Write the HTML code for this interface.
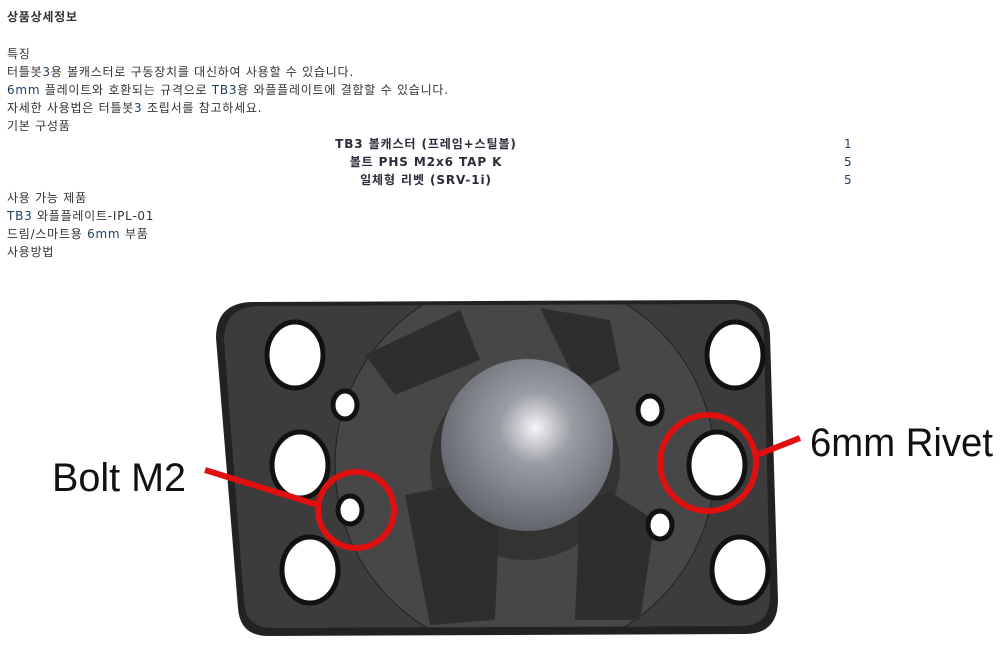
<!DOCTYPE html>
<html><head><meta charset="utf-8"><style>
body{margin:0;width:1008px;height:654px;background:#fff;overflow:hidden;position:relative;font-family:"DejaVu Sans","Noto Sans CJK KR",sans-serif;font-size:12px;color:#333}
.l{position:absolute;left:7px;white-space:nowrap;line-height:18px;letter-spacing:0.75px}
.b{color:#1e3f66}
.c{position:absolute;white-space:nowrap;font-weight:bold;line-height:18px;text-align:center;width:400px;left:226px;color:#2b2b3a;letter-spacing:0.9px}
.n{position:absolute;left:844px;line-height:18px;color:#1e3f66}
</style></head><body>
<div class="l" style="top:8px;font-weight:bold">상품상세정보</div>
<div class="l" style="top:45px">특징</div>
<div class="l" style="top:63px">터틀봇<span class="b">3</span>용 볼캐스터로 구동장치를 대신하여 사용할 수 있습니다.</div>
<div class="l" style="top:81px"><span class="b">6mm</span> 플레이트와 호환되는 규격으로 <span class="b">TB3</span>용 와플플레이트에 결합할 수 있습니다.</div>
<div class="l" style="top:99px">자세한 사용법은 터틀봇<span class="b">3</span> 조립서를 참고하세요.</div>
<div class="l" style="top:117px">기본 구성품</div>
<div class="c" style="top:135px">TB3 볼캐스터 (프레임+스틸볼)</div><div class="n" style="top:135px">1</div>
<div class="c" style="top:153px">볼트 PHS M2x6 TAP K</div><div class="n" style="top:153px">5</div>
<div class="c" style="top:171px">일체형 리벳 (SRV-1i)</div><div class="n" style="top:171px">5</div>
<div class="l" style="top:189px">사용 가능 제품</div>
<div class="l" style="top:207px"><span class="b">TB3</span> 와플플레이트-IPL-01</div>
<div class="l" style="top:225px">드림/스마트용 <span class="b">6mm</span> 부품</div>
<div class="l" style="top:243px">사용방법</div>
<svg width="1008" height="654" style="position:absolute;left:0;top:0">
<defs><radialGradient id="g" cx="0.55" cy="0.4" r="0.7"><stop offset="0" stop-color="#f4f5f8"/><stop offset="0.3" stop-color="#9a9ca4"/><stop offset="1" stop-color="#55575e"/></radialGradient>
<clipPath id="cp"><path d="M256 306 L732 304 Q762 306 764 335 L770 596 Q770 626 740 626 L272 628 Q246 628 244 602 L224 340 Q224 308 256 306Z"/></clipPath></defs>
<path d="M250 302 L735 300 Q768 302 770 335 L778 600 Q778 634 745 634 L268 636 Q240 636 238 608 L216 338 Q216 304 250 302Z" fill="#222"/>
<path d="M256 306 L732 304 Q762 306 764 335 L770 596 Q770 626 740 626 L272 628 Q246 628 244 602 L224 340 Q224 308 256 306Z" fill="#3c3c3c"/>
<g clip-path="url(#cp)">
<circle cx="525" cy="465" r="190" fill="#474747" stroke="#222"/>
<circle cx="525" cy="465" r="95" fill="#333"/>
<path d="M365 355 L460 310 L480 360 L395 395Z" fill="#2e2e2e"/>
<path d="M540 308 L610 320 L620 370 L580 390Z" fill="#2e2e2e"/>
<path d="M405 495 L470 482 L500 500 L495 620 L430 625Z" fill="#2e2e2e"/>
<path d="M580 505 L610 492 L655 520 L640 620 L575 620Z" fill="#2e2e2e"/>
</g>
<g fill="#fff" stroke="#111" stroke-width="5">
<ellipse cx="295" cy="355" rx="28" ry="33"/><ellipse cx="300" cy="465" rx="28" ry="33"/><ellipse cx="310" cy="570" rx="28" ry="33"/>
<ellipse cx="735" cy="355" rx="28" ry="33"/><ellipse cx="717" cy="465" rx="28" ry="33"/><ellipse cx="740" cy="570" rx="28" ry="33"/>
<ellipse cx="350" cy="510" rx="12" ry="14"/><ellipse cx="345" cy="405" rx="12" ry="14"/><ellipse cx="650" cy="410" rx="12" ry="14"/><ellipse cx="660" cy="525" rx="12" ry="14"/>
</g>
<circle cx="527" cy="445" r="86" fill="url(#g)"/>
<g fill="none" stroke="#e01010" stroke-width="6">
<circle cx="356" cy="510" r="38"/><circle cx="708" cy="463" r="48"/>
<line x1="205" y1="470" x2="318" y2="505"/><line x1="757" y1="455" x2="800" y2="438"/>
</g>
<text x="52" y="491" font-family="Liberation Sans, sans-serif" font-size="40" fill="#111" textLength="134" lengthAdjust="spacingAndGlyphs">Bolt M2</text>
<text x="810" y="456" font-family="Liberation Sans, sans-serif" font-size="40" fill="#111" textLength="183" lengthAdjust="spacingAndGlyphs">6mm Rivet</text>
</svg>
</body></html>
